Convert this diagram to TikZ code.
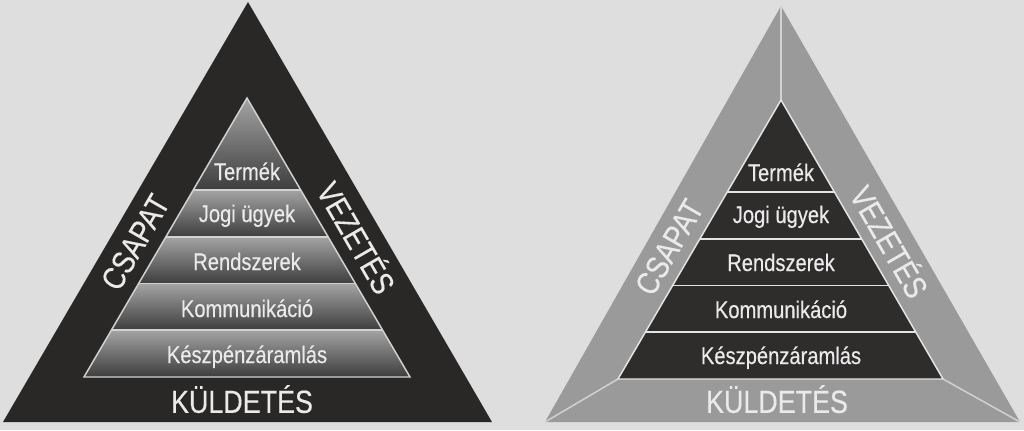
\documentclass[tikz,border=0pt]{standalone}
\usepackage{fontspec}
\setmainfont{Liberation Sans}[FakeStretch=0.84,FakeBold=0.35]
\usetikzlibrary{calc}
\definecolor{paper}{HTML}{DEDEDE}
\definecolor{darkband}{HTML}{2A2727}
\definecolor{grayband}{HTML}{9A9A9A}
\definecolor{darkcore}{HTML}{2F2C2C}
\definecolor{sepline}{HTML}{D2D2D2}
\definecolor{whiteline}{HTML}{E4E4E4}
\definecolor{txtlight}{HTML}{EAEAEA}
\tikzset{
  layertxt/.style={anchor=base, inner sep=0pt, text=txtlight, font=\fontsize{18}{20}\selectfont},
  bandtxt/.style={inner sep=0pt, text=txtlight, text height=17pt, text depth=0pt, font=\fontsize{24}{26}\selectfont},
  leftlayer/.style={top color=black!36, bottom color=black!76},
  leftsep/.style={draw=sepline, line width=1.1pt},
  rightsep/.style={draw=whiteline, line width=1.1pt},
  bevel/.style={draw=sepline, line width=1.1pt},
}
\begin{document}
\begin{tikzpicture}[x=0.75pt,y=-0.75pt]
\useasboundingbox[fill=paper] (0,0) rectangle (1024,430);
% ---------- left pyramid ----------
\coordinate (OA) at (248,2);
\coordinate (OL) at (3,422);
\coordinate (OR) at (492,422);
\coordinate (LA) at (247,98);
\coordinate (LL) at (84,377);
\coordinate (LR) at (410,377);
\fill[darkband] (OA) -- (OL) -- (OR) -- cycle;
\foreach \ta/\tb in {0/0.3297,0.3297/0.4982,0.4982/0.6649,0.6649/0.8315,0.8315/1}{
  \shade[leftlayer] ($(LA)!\ta!(LL)$) -- ($(LA)!\tb!(LL)$) -- ($(LA)!\tb!(LR)$) -- ($(LA)!\ta!(LR)$) -- cycle;
}
\foreach \t in {0.3297,0.4982,0.6649,0.8315}{
  \draw[leftsep] ($(LA)!\t!(LL)$) -- ($(LA)!\t!(LR)$);
}
\draw[leftsep, line join=miter] (LA) -- (LL) -- (LR) -- cycle;
\node[layertxt] (l1) at (247,180) {Termék};
\node[layertxt] (l2) at (247,222) {Jogi ügyek};
\node[layertxt] (l3) at (247,270) {Rendszerek};
\node[layertxt] (l4) at (247,317) {Kommunikáció};
\node[layertxt] (l5) at (247,363) {Készpénzáramlás};
\node[bandtxt] (lk) at (242,401.5) {KÜLDETÉS};
\node[bandtxt, rotate=60] (lc) at (135,242) {CSAPAT};
\node[bandtxt, rotate=-60] (lv) at (356,238) {VEZETÉS};
% ---------- right pyramid ----------
\coordinate (PA) at (781,6);
\coordinate (PL) at (545,422);
\coordinate (PR) at (1020,422);
\coordinate (RA) at (781,100);
\coordinate (RL) at (618,379);
\coordinate (RR) at (943,379);
\fill[grayband] (PA) -- (PL) -- (PR) -- cycle;
\draw[bevel] (PA) -- (RA);
\draw[bevel] (PL) -- (RL);
\draw[bevel] (PR) -- (RR);
\fill[darkcore] (RA) -- (RL) -- (RR) -- cycle;
\foreach \t in {0.3297,0.4982,0.6649,0.8315}{
  \draw[rightsep] ($(RA)!\t!(RL)$) -- ($(RA)!\t!(RR)$);
}
\draw[rightsep, line join=miter] (RA) -- (RL) -- (RR) -- cycle;
\node[layertxt] (r1) at (781,181) {Termék};
\node[layertxt] (r2) at (781,223) {Jogi ügyek};
\node[layertxt] (r3) at (781,271) {Rendszerek};
\node[layertxt] (r4) at (781,318) {Kommunikáció};
\node[layertxt] (r5) at (781,364) {Készpénzáramlás};
\node[bandtxt] (rk) at (777,401.5) {KÜLDETÉS};
\node[bandtxt, rotate=60] (rc) at (669,247) {CSAPAT};
\node[bandtxt, rotate=-60] (rv) at (889,242) {VEZETÉS};
\end{tikzpicture}
\end{document}
